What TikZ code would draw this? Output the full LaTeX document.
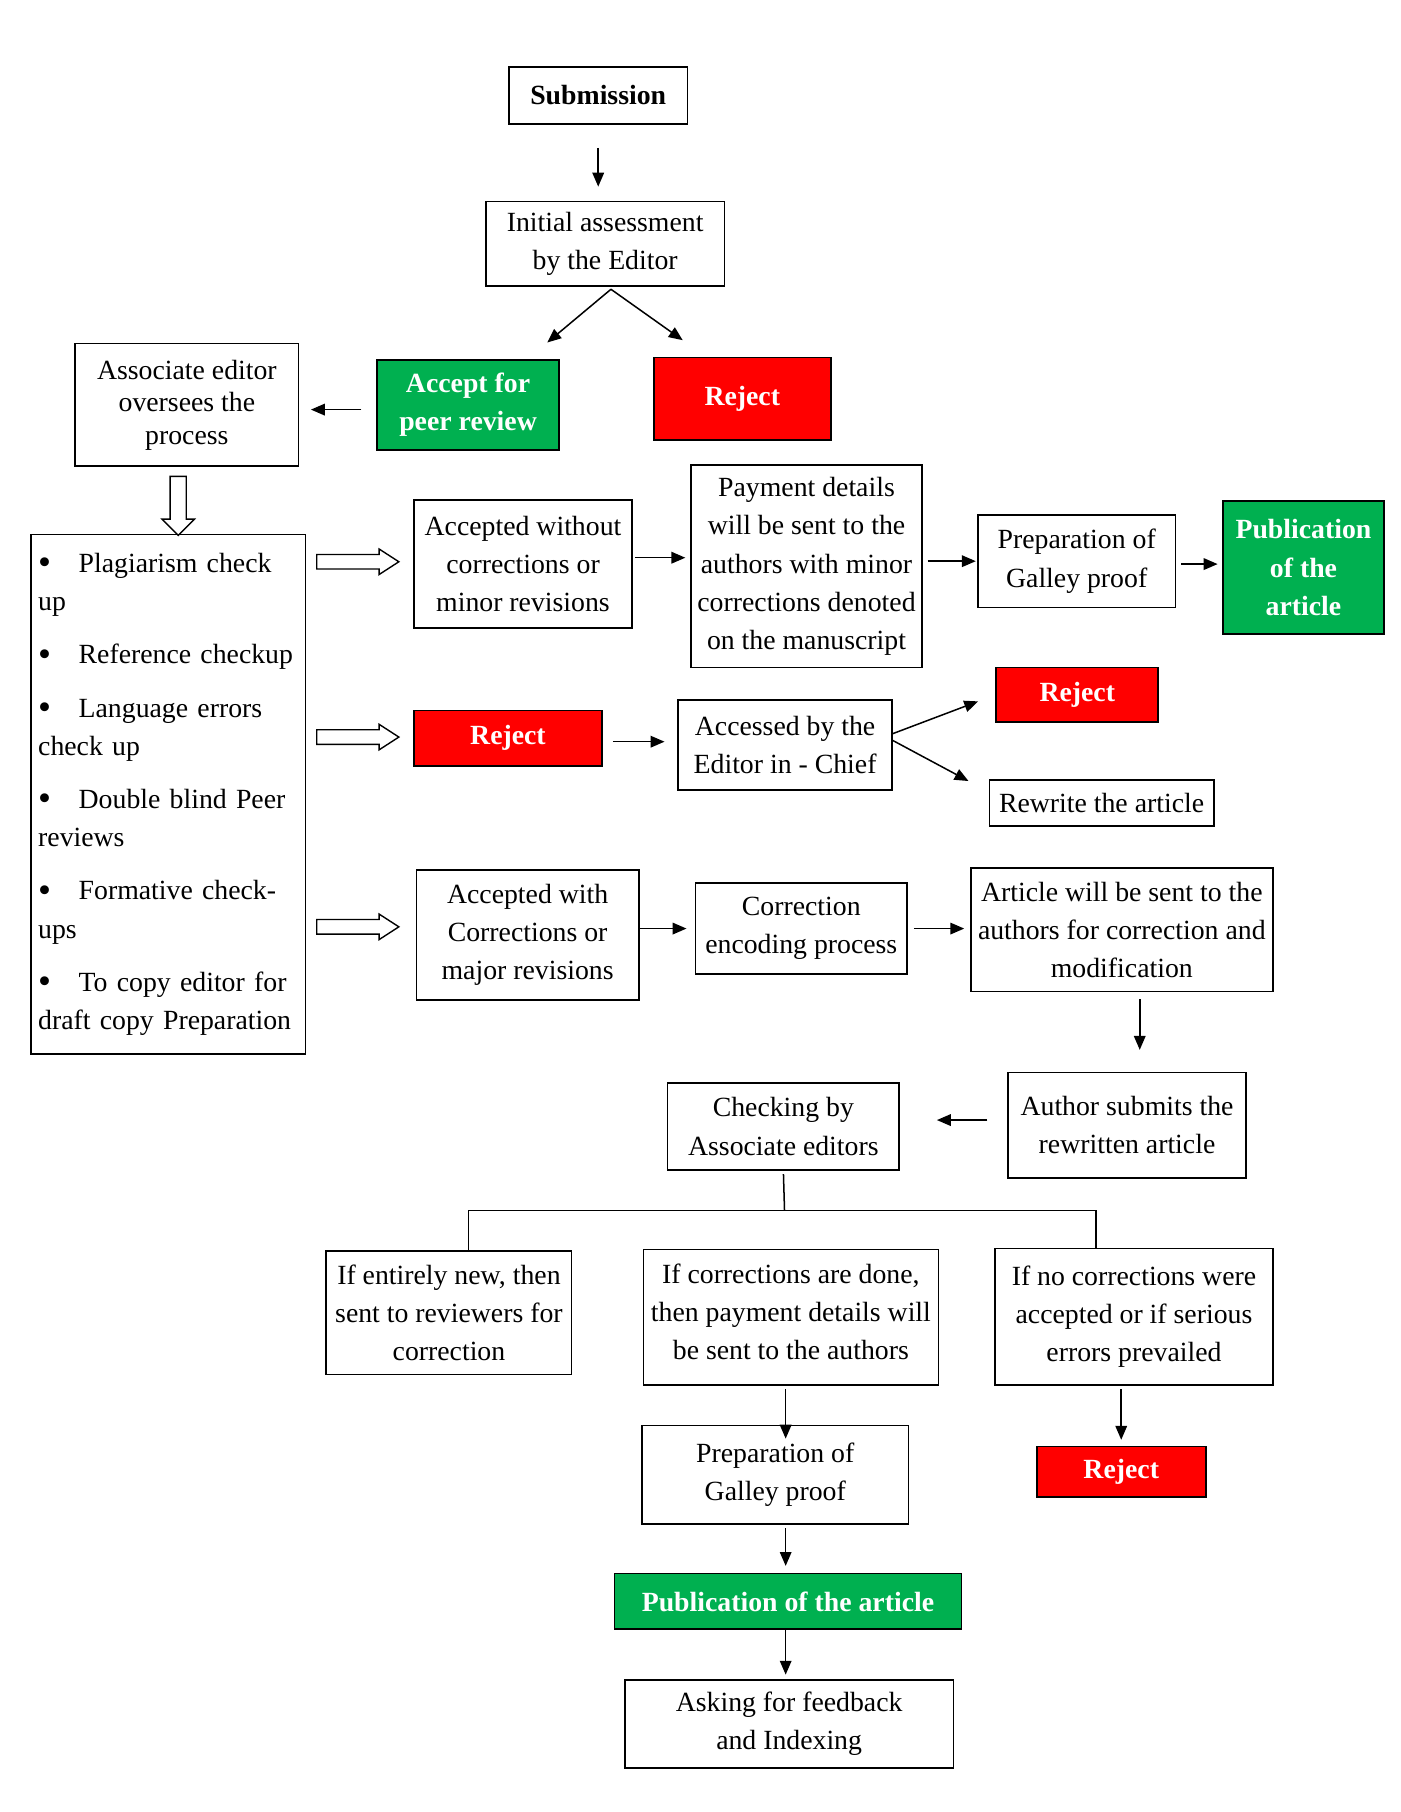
\documentclass[tikz,border=0pt]{standalone}
\usepackage{fontspec}
\setmainfont{Liberation Serif}
\usetikzlibrary{arrows.meta}
\definecolor{wordgreen}{RGB}{0,176,80}
\definecolor{wordred}{RGB}{255,0,0}
\newcommand{\listbul}{\makebox[17.5pt][l]{\raisebox{-1pt}{\fontsize{16pt}{16pt}\selectfont\textbullet}}}

\begin{document}
\begin{tikzpicture}[x=0.5pt, y=-0.5pt,
    box/.style 2 args={draw, line width=0.7pt, align=center, inner sep=1pt,
        minimum width=#1*0.5pt, minimum height=#2*0.5pt,
        font=\fontsize{12pt}{16.5pt}\selectfont},
    greenbox/.style 2 args={box={#1}{#2}, fill=wordgreen, text=white,
        font=\fontsize{12pt}{16.5pt}\selectfont\bfseries},
    redbox/.style 2 args={box={#1}{#2}, fill=wordred, text=white,
        font=\fontsize{12pt}{16.5pt}\selectfont\bfseries},
    arr/.style={-{Triangle[length=6pt, width=5pt]}, line width=0.65pt},
    hollow/.style={draw, line width=0.6pt, fill=white, line join=miter}]
    \useasboundingbox (0,0) rectangle (1210,1566);

    % top of the chart
    \node[box={154}{49}, font=\fontsize{12pt}{16.5pt}\selectfont\bfseries] (sub) at (517,82.5) {Submission};
    \node[box={206}{73}] (init) at (523,210.5) {Initial assessment\\by the Editor};
    \node[greenbox={157}{78}] (acc) at (404.5,350) {Accept for\\peer review};
    \node[redbox={153}{71}] (rej1) at (641.5,344.5) {Reject};
    \node[box={193}{106}, font=\fontsize{12pt}{14pt}\selectfont] (assoc) at (161.5,350) {Associate editor\\oversees the\\process};

    \node[box={237}{449}, align=left, text width=112.5pt] (list) at (145.5,686.5) {%
        \listbul Plagiarism check\\ up\\[6.5pt]
        \listbul Reference checkup\\[6.5pt]
        \listbul Language errors\\ check up\\[6.5pt]
        \listbul Double blind Peer\\ reviews\\[6.5pt]
        \listbul Formative check-\\ ups\\[6.5pt]
        \listbul To copy editor for\\ draft copy Preparation};

    % first row
    \node[box={188}{111}] (acw) at (452,487.5) {Accepted without\\corrections or\\minor revisions};
    \node[box={200}{175}] (pay) at (697,489.5) {Payment details\\will be sent to the\\authors with minor\\corrections denoted\\on the manuscript};
    \node[box={171}{80}] (gal) at (930.5,485) {Preparation of\\Galley proof};
    \node[greenbox={139}{115}] (pub) at (1126.5,490.5) {Publication\\of the\\article};

    % second row
    \node[redbox={162}{48}] (rej2) at (439,638) {Reject};
    \node[box={185}{78}] (accd) at (678.5,644) {Accessed by the\\Editor in - Chief};
    \node[redbox={140}{47}] (rej3) at (931,600.5) {Reject};
    \node[box={194}{40}] (rew) at (952,694) {Rewrite the article};

    % third row
    \node[box={192}{112}] (aw) at (456,808) {Accepted with\\Corrections or\\major revisions};
    \node[box={183}{79}] (corr) at (692.5,802.5) {Correction\\encoding process};
    \node[box={261}{107}] (art) at (969.5,803.5) {Article will be sent to the\\authors for correction and\\modification};
    \node[box={206}{91}] (auth) at (974,972.5) {Author submits the\\rewritten article};
    \node[box={200}{75}] (chk) at (677,973.5) {Checking by\\Associate editors};

    % bottom part
    \node[box={212}{107}] (ent) at (388,1134.5) {If entirely new, then\\sent to reviewers for\\correction};
    \node[box={255}{117}] (done) at (683.5,1138.5) {If corrections are done,\\then payment details will\\be sent to the authors\strut};
    \node[box={240}{118}] (no) at (980,1138) {If no corrections were\\accepted or if serious\\errors prevailed};
    \node[box={230}{85}] (prep2) at (670,1274.5) {Preparation of\\Galley proof};
    \node[redbox={146}{44}] (rej4) at (969,1272) {Reject};
    \node[greenbox={300}{48}] (pub2) at (681,1384) {Publication of the article};
    \node[box={284}{76}] (ask) at (682,1490) {Asking for feedback\\and Indexing};

    \coordinate (apex) at (528,250);
    \coordinate (tipA) at (473,296);
    \coordinate (tipR) at (590,294);
    \coordinate (rewtip) at (837,675);
    \coordinate (fork) at (678,1046);

    \draw[arr, shorten <=10pt, shorten >=6pt] (sub.south) -- (sub.south |- init.north);
    \draw[arr] (apex) -- (tipA); \draw[arr] (apex) -- (tipR);
    \draw[arr, shorten <=6.5pt, shorten >=5pt] ([yshift=-2pt]acc.west) -- ([yshift=-2pt]assoc.east);
    \draw[arr, shorten <=1pt, shorten >=2pt] (acw.east |- 0,482) -- (pay.west |- 0,482);
    \draw[arr, shorten <=2pt, shorten >=0.5pt] (pay.east |- gal.west) -- (gal.west);
    \draw[arr, shorten <=2pt, shorten >=2pt] (gal.east |- 0,487.5) -- (pub.west |- 0,487.5);
    \draw[arr, shorten <=4.5pt, shorten >=5.5pt] (rej2.east |- 0,641) -- (accd.west |- 0,641);
    \draw[arr, shorten >=8pt] ([yshift=5pt]accd.east) -- (rej3.west);
    \draw[arr] ([yshift=2pt]accd.east) -- (rewtip);
    \draw[arr, shorten >=3.5pt] (aw.east |- corr.west) -- (corr.west);
    \draw[arr, shorten <=2.5pt, shorten >=2.5pt] (corr.east) -- (corr.east -| art.west);
    \draw[arr, shorten <=3pt, shorten >=9.5pt] (art.south -| 985,0) -- (auth.north -| 985,0);
    \draw[arr, shorten <=8.5pt, shorten >=16pt] (auth.west |- 0,968) -- (chk.east |- 0,968);
    \draw[arr, shorten <=1.5pt, shorten >=-6pt] (done.south -| 679,0) -- (prep2.north -| 679,0);
    \draw[arr, shorten <=1.5pt, shorten >=2.5pt] (rej4.north |- no.south) -- (rej4.north);
    \draw[arr, shorten <=1.5pt, shorten >=3pt] (prep2.south -| 679,0) -- (pub2.north -| 679,0);
    \draw[arr, shorten >=2pt] (pub2.south -| 679,0) -- (ask.north -| 679,0);

    % branching lines under the checking box
    \draw[line width=0.65pt, shorten <=1.5pt] (chk.south) -- (fork);
    \draw[line width=0.65pt] (ent.north -| 405,0) |- (fork) -| (no.north -| 947,0);

    % hollow arrows
    \draw[hollow] (assoc.south) ++(-14.5,8) -- ++(14,0) -- ++(0,37) -- ++(7,0) -- ++(-14,14) -- ++(-14,-14) -- ++(7,0) -- cycle;
    \foreach \y in {485.5, 637, 801}
        \draw[hollow] (list.east |- 0,\y) ++(9,-6.3) -- ++(54,0) -- ++(0,-4.7) -- ++(17,11) -- ++(-17,11) -- ++(0,-4.7) -- ++(-54,0) -- cycle;
\end{tikzpicture}
\end{document}
